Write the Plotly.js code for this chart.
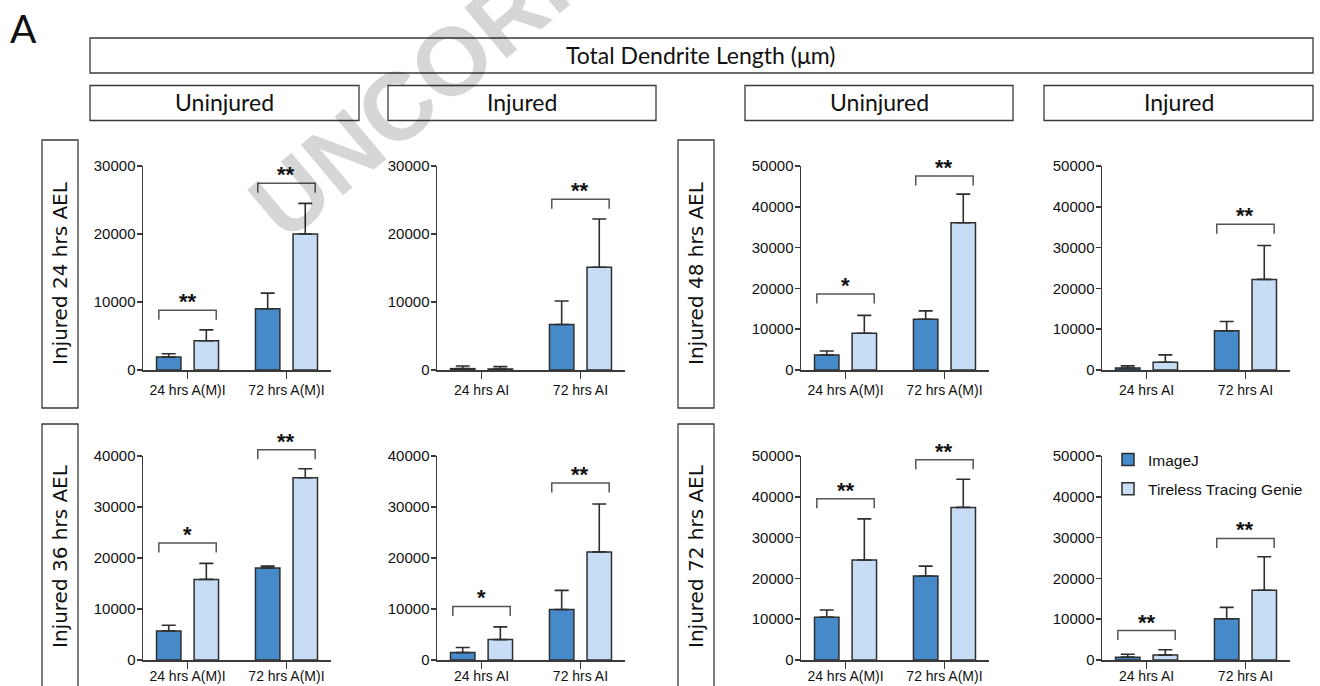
<!DOCTYPE html>
<html>
<head>
<meta charset="utf-8">
<script src="https://cdn.plot.ly/plotly-3.0.1.min.js"></script>
<style>html,body{margin:0;padding:0;background:#fff;}#chart{width:1320px;height:686px;}</style>
</head>
<body>
<div id="chart"></div>
<script>
// ---------------- DATA ----------------
const seriesNames = ["ImageJ", "Tireless Tracing Genie"];
const catsAMI = ["24 hrs A(M)I", "72 hrs A(M)I"];
const catsAI = ["24 hrs AI", "72 hrs AI"];
const mainTitle = "Total Dendrite Length (\u03bcm)";
const columnHeaders = ["Uninjured", "Injured", "Uninjured", "Injured"];
const rowLabels = ["Injured 24 hrs AEL", "Injured 36 hrs AEL", "Injured 48 hrs AEL", "Injured 72 hrs AEL"];
const panelLetter = "A";
const watermarkText = "UNCORRECTED PROOF";

// Injured 24 hrs AEL - Uninjured
const p1_imagej = [1900, 9000];
const p1_imagejSd = [500, 2300];
const p1_ttg = [4300, 20000];
const p1_ttgSd = [1600, 4500];
const p1_sig = ["**", "**"];
const p1_sigLevel = [8800, 27450];
// Injured 24 hrs AEL - Injured
const p2_imagej = [200, 6700];
const p2_imagejSd = [390, 3450];
const p2_ttg = [150, 15100];
const p2_ttgSd = [340, 7100];
const p2_sig = [null, "**"];
const p2_sigLevel = [null, 25100];
// Injured 48 hrs AEL - Uninjured
const p3_imagej = [3700, 12450];
const p3_imagejSd = [950, 2050];
const p3_ttg = [9000, 36100];
const p3_ttgSd = [4400, 7000];
const p3_sig = ["*", "**"];
const p3_sigLevel = [18600, 47550];
// Injured 48 hrs AEL - Injured
const p4_imagej = [500, 9600];
const p4_imagejSd = [500, 2300];
const p4_ttg = [1900, 22200];
const p4_ttgSd = [1800, 8300];
const p4_sig = [null, "**"];
const p4_sigLevel = [null, 35700];
// Injured 36 hrs AEL - Uninjured
const p5_imagej = [5700, 18050];
const p5_imagejSd = [1100, 350];
const p5_ttg = [15800, 35750];
const p5_ttgSd = [3150, 1750];
const p5_sig = ["*", "**"];
const p5_sigLevel = [22950, 41250];
// Injured 36 hrs AEL - Injured
const p6_imagej = [1450, 9900];
const p6_imagejSd = [1000, 3750];
const p6_ttg = [4000, 21200];
const p6_ttgSd = [2500, 9400];
const p6_sig = ["*", "**"];
const p6_sigLevel = [10500, 34700];
// Injured 72 hrs AEL - Uninjured
const p7_imagej = [10500, 20600];
const p7_imagejSd = [1750, 2400];
const p7_ttg = [24500, 37400];
const p7_ttgSd = [10100, 6900];
const p7_sig = ["**", "**"];
const p7_sigLevel = [39500, 49100];
// Injured 72 hrs AEL - Injured
const p8_imagej = [700, 10100];
const p8_imagejSd = [700, 2800];
const p8_ttg = [1200, 17100];
const p8_ttgSd = [1300, 8200];
const p8_sig = ["**", "**"];
const p8_sigLevel = [7200, 29800];

const yAxisMax = [30000, 30000, 50000, 50000, 40000, 40000, 50000, 50000];
const yAxisStep = 10000;

// ---------------- LAYOUT HELPERS ----------------
const W = 1320, H = 686;
const fx = v => v / W;
const fy = v => 1 - v / H;

const colPx = [[143, 331], [437, 625], [801, 989], [1102, 1290]];
const rowPx = [[166, 370], [456, 660]];

const C_IJ = "rgb(71,138,201)";
const C_TTG = "rgb(199,221,245)";
const C_EDGE = "#2e2e2e";
const C_AXIS = "#3a3a3a";
const tickFont = {family: "Liberation Sans, Arial, sans-serif", size: 14, color: "#111"};

const panels = [
  {cats: catsAMI, a: p1_imagej, aSd: p1_imagejSd, b: p1_ttg, bSd: p1_ttgSd, sig: p1_sig, lvl: p1_sigLevel, col: 0, row: 0},
  {cats: catsAI,  a: p2_imagej, aSd: p2_imagejSd, b: p2_ttg, bSd: p2_ttgSd, sig: p2_sig, lvl: p2_sigLevel, col: 1, row: 0},
  {cats: catsAMI, a: p3_imagej, aSd: p3_imagejSd, b: p3_ttg, bSd: p3_ttgSd, sig: p3_sig, lvl: p3_sigLevel, col: 2, row: 0},
  {cats: catsAI,  a: p4_imagej, aSd: p4_imagejSd, b: p4_ttg, bSd: p4_ttgSd, sig: p4_sig, lvl: p4_sigLevel, col: 3, row: 0},
  {cats: catsAMI, a: p5_imagej, aSd: p5_imagejSd, b: p5_ttg, bSd: p5_ttgSd, sig: p5_sig, lvl: p5_sigLevel, col: 0, row: 1},
  {cats: catsAI,  a: p6_imagej, aSd: p6_imagejSd, b: p6_ttg, bSd: p6_ttgSd, sig: p6_sig, lvl: p6_sigLevel, col: 1, row: 1},
  {cats: catsAMI, a: p7_imagej, aSd: p7_imagejSd, b: p7_ttg, bSd: p7_ttgSd, sig: p7_sig, lvl: p7_sigLevel, col: 2, row: 1},
  {cats: catsAI,  a: p8_imagej, aSd: p8_imagejSd, b: p8_ttg, bSd: p8_ttgSd, sig: p8_sig, lvl: p8_sigLevel, col: 3, row: 1}
];

const traces = [];
const shapes = [];
const annotations = [];
const layout = {
  width: W, height: H,
  margin: {l: 0, r: 0, t: 0, b: 0},
  paper_bgcolor: "#fff", plot_bgcolor: "rgba(0,0,0,0)",
  barmode: "group", bargap: 0.24, bargroupgap: 0.35,
  showlegend: true,
  legend: {
    x: fx(1108), y: fy(443), xanchor: "left", yanchor: "top",
    bgcolor: "rgba(0,0,0,0)", borderwidth: 0,
    font: {family: "Liberation Sans, Arial, sans-serif", size: 15.5, color: "#111"},
    traceorder: "grouped", tracegroupgap: 6
  },
  font: {family: "Liberation Sans, Arial, sans-serif"}
};

panels.forEach((p, i) => {
  const n = i + 1;
  const xa = "x" + n, ya = "y" + n;
  const xKey = "xaxis" + (n === 1 ? "" : n), yKey = "yaxis" + (n === 1 ? "" : n);
  const xs = p.cats.map((c, k) => k);
  const isLegend = (i === 7);
  traces.push({
    type: "bar", name: seriesNames[0], x: xs, y: p.a, xaxis: xa, yaxis: ya,
    marker: {color: C_IJ, line: {color: C_EDGE, width: 1.5}},
    error_y: {type: "data", symmetric: false, array: p.aSd, arrayminus: p.aSd.map(() => 0), color: C_EDGE, thickness: 1.6, width: 7},
    showlegend: isLegend, legendgroup: "ij", hoverinfo: "skip"
  });
  traces.push({
    type: "bar", name: seriesNames[1], x: xs, y: p.b, xaxis: xa, yaxis: ya,
    marker: {color: C_TTG, line: {color: C_EDGE, width: 1.5}},
    error_y: {type: "data", symmetric: false, array: p.bSd, arrayminus: p.bSd.map(() => 0), color: C_EDGE, thickness: 1.6, width: 7},
    showlegend: isLegend, legendgroup: "ttg", hoverinfo: "skip"
  });
  const cx = colPx[p.col], ry = rowPx[p.row];
  const ymax = yAxisMax[i];
  const tv = [];
  for (let v = 0; v <= ymax; v += yAxisStep) tv.push(v);
  layout[xKey] = {
    domain: [fx(cx[0]), fx(cx[1])], anchor: ya, range: [-0.45, 1.45],
    tickvals: xs, ticktext: p.cats, tickfont: tickFont,
    ticklabelstandoff: p.row === 1 ? -4 : 0,
    showline: true, linecolor: C_AXIS, linewidth: 1.5,
    ticks: "outside", ticklen: 7, tickwidth: 1.5, tickcolor: C_AXIS,
    showgrid: false, zeroline: false, fixedrange: true
  };
  layout[yKey] = {
    domain: [fy(ry[1]), fy(ry[0])], anchor: xa, range: [0, ymax],
    tickvals: tv, tickformat: "d", tickfont: Object.assign({}, tickFont, {size: 15}),
    ticklabelstandoff: -2,
    showline: true, linecolor: C_AXIS, linewidth: 1.5,
    ticks: "outside", ticklen: 5, tickwidth: 1.5, tickcolor: C_AXIS,
    showgrid: false, zeroline: false, fixedrange: true
  };
  // significance brackets (y in the axis' domain fraction so they may sit above the top tick)
  const yd = ya + " domain";
  const drop = 9.5 / (ry[1] - ry[0]);
  p.sig.forEach((s, k) => {
    if (!s) return;
    const L = p.lvl[k] / ymax;
    shapes.push({
      type: "path", xref: xa, yref: yd,
      path: `M ${k - 0.29},${L - drop} L ${k - 0.29},${L} L ${k + 0.29},${L} L ${k + 0.29},${L - drop}`,
      line: {color: "#555", width: 1.5}
    });
    annotations.push({
      xref: xa, yref: yd, x: k, y: L, text: "<b>" + s + "</b>", showarrow: false,
      xanchor: "center", yanchor: "bottom", yshift: -6,
      font: {family: "Liberation Sans, Arial, sans-serif", size: 22, color: "#111"}
    });
  });
});

// header boxes
const boxLine = {color: "#3a3a3a", width: 1.3};
shapes.push({type: "rect", xref: "paper", yref: "paper", x0: fx(90), x1: fx(1313), y0: fy(73), y1: fy(38), line: boxLine});
const subBoxes = [[90, 359], [388, 656], [745, 1013], [1044, 1313]];
subBoxes.forEach((b, i) => {
  shapes.push({type: "rect", xref: "paper", yref: "paper", x0: fx(b[0]), x1: fx(b[1]), y0: fy(120.5), y1: fy(85.5), line: boxLine});
  annotations.push({xref: "paper", yref: "paper", x: fx((b[0] + b[1]) / 2), y: fy(102), text: columnHeaders[i],
    showarrow: false, xanchor: "center", yanchor: "middle", font: {family: "Lato, sans-serif", size: 23, color: "#111"}});
});
annotations.push({xref: "paper", yref: "paper", x: fx(701), y: fy(55), text: mainTitle,
  showarrow: false, xanchor: "center", yanchor: "middle", font: {family: "Lato, sans-serif", size: 23, color: "#111"}});

// row label boxes
const rowBoxX = [[42, 78], [678, 714]];
const rowBoxY = [[140, 408], [424, 700]];
const rowLabelPos = [[0, 0], [0, 1], [1, 0], [1, 1]];
rowLabelPos.forEach((rc, i) => {
  const bx = rowBoxX[rc[0]], by = rowBoxY[rc[1]];
  shapes.push({type: "rect", xref: "paper", yref: "paper", x0: fx(bx[0]), x1: fx(bx[1]), y0: fy(by[1]), y1: fy(by[0]), line: boxLine});
  const cy = rc[1] === 0 ? 273 : 556;
  annotations.push({xref: "paper", yref: "paper", x: fx((bx[0] + bx[1]) / 2), y: fy(cy), text: rowLabels[i],
    textangle: -90, showarrow: false, xanchor: "center", yanchor: "middle",
    font: {family: "DejaVu Sans, sans-serif", size: 20, color: "#111"}});
});

// panel letter
annotations.push({xref: "paper", yref: "paper", x: fx(8), y: fy(28), text: panelLetter, showarrow: false,
  xanchor: "left", yanchor: "middle", font: {family: "Lato, sans-serif", size: 39, color: "#111"}});

// watermark
annotations.push({xref: "paper", yref: "paper", x: fx(690), y: fy(-140), text: "<b>" + watermarkText + "</b>",
  textangle: -40, showarrow: false, xanchor: "center", yanchor: "middle",
  font: {family: "Liberation Sans, Arial, sans-serif", size: 96, color: "rgba(0,0,0,0.16)"}});

layout.shapes = shapes;
layout.annotations = annotations;

Plotly.newPlot("chart", traces, layout, {staticPlot: true, displayModeBar: false});
</script>
</body>
</html>
